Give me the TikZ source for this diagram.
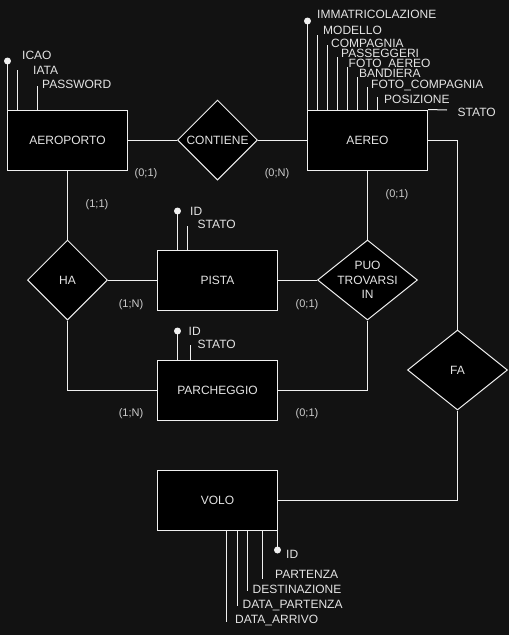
\documentclass[tikz,border=0pt]{standalone}
\usepackage{fontspec}
\setmainfont{Liberation Sans}
\usetikzlibrary{shapes.geometric}
\definecolor{bg}{RGB}{18,18,18}
\definecolor{ln}{RGB}{240,240,240}
\definecolor{tx}{RGB}{228,228,228}
\definecolor{cx}{RGB}{205,205,205}
\begin{document}
\begin{tikzpicture}[x=1pt,y=-1pt,
  ent/.style={draw=ln, fill=black, line width=1pt, minimum width=120pt, minimum height=60pt, inner sep=0pt, text=tx, font=\fontsize{12}{14}\selectfont},
  rel/.style={diamond, draw=ln, fill=black, line width=1pt, minimum height=80pt, inner sep=0pt},
  reltext/.style={text=tx, font=\fontsize{12}{14.5}\selectfont, align=center, inner sep=0pt},
  conn/.style={draw=ln, line width=1pt},
  attr/.style={draw=ln, line width=1pt},
  attrtext/.style={anchor=west, inner sep=0pt, text=tx, font=\fontsize{12}{14}\selectfont, text height=8.6pt, text depth=0pt},
  card/.style={inner sep=0pt, text=cx, font=\fontsize{11}{13}\selectfont},
  keydot/.style={fill=ln}
]
\fill[bg] (0,0) rectangle (509,635);
\useasboundingbox (0,0) rectangle (509,635);

% entities
\node[ent] (aeroporto) at (67.5,140) {AEROPORTO};
\node[ent] (aereo) at (367.5,140) {AEREO};
\node[ent] (pista) at (217.5,280) {PISTA};
\node[ent] (parcheggio) at (217.5,390) {PARCHEGGIO};
\node[ent] (volo) at (217.5,500) {VOLO};

% relations
\node[rel, minimum width=80pt] (contiene) at (217.5,140) {};
\node[reltext] (contieneT) at (contiene.center) {CONTIENE};
\node[rel, minimum width=80pt] (ha) at (67.5,280) {};
\node[reltext] (haT) at (ha.center) {HA};
\node[rel, minimum width=100pt] (puo) at (367.5,280) {};
\node[reltext] (puoT) at (puo.center) {PUO\\TROVARSI\\IN};
\node[rel, minimum width=100pt] (fa) at (457.5,370) {};
\node[reltext] (faT) at (fa.center) {FA};

% connectors
\draw[conn] (aeroporto.east) -- (contiene.west);
\draw[conn] (contiene.east) -- (aereo.west);
\draw[conn] (aeroporto.south) -- (ha.north);
\draw[conn] (ha.east) -- (pista.west);
\draw[conn] (ha.south) |- (parcheggio.west);
\draw[conn] (aereo.south) -- (puo.north);
\draw[conn] (puo.west) -- (pista.east);
\draw[conn] (puo.south) |- (parcheggio.east);
\draw[conn] (aereo.east) -| (fa.north);
\draw[conn] (fa.south) |- (volo.east);

% cardinalities
\node[card] (c1) at (146,174) {(0;1)};
\node[card] (c2) at (277,174) {(0;N)};
\node[card] (c3) at (97,205) {(1;1)};
\node[card] (c4) at (131,305) {(1;N)};
\node[card] (c5) at (131,414) {(1;N)};
\node[card] (c6) at (397,195) {(0;1)};
\node[card] (c7) at (307,305) {(0;1)};
\node[card] (c8) at (307,414) {(0;1)};

% AEROPORTO attributes
\coordinate (ap1) at (7.5,61);
\coordinate (ap2) at (17.5,70);
\coordinate (ap3) at (37.5,86);
\draw[attr] (ap1 |- aeroporto.north) -- (ap1);
\fill[keydot] (ap1) circle (3.5);
\draw[attr] (ap2 |- aeroporto.north) -- (ap2);
\draw[attr] (ap3 |- aeroporto.north) -- (ap3);
\node[attrtext] (apt1) at (22,55) {ICAO};
\node[attrtext] (apt2) at (33,70) {IATA};
\node[attrtext] (apt3) at (42,84) {PASSWORD};

% AEREO attributes
\coordinate (ae1) at (307.5,21);
\coordinate (ae2) at (317.5,35);
\coordinate (ae3) at (327.5,45);
\coordinate (ae4) at (337.5,57);
\coordinate (ae5) at (347.5,67);
\coordinate (ae6) at (357.5,77);
\coordinate (ae7) at (367.5,87);
\coordinate (ae8) at (377.5,97);
\coordinate (ae9) at (447,110);
\draw[attr] (ae1 |- aereo.north) -- (ae1);
\fill[keydot] (ae1) circle (3.5);
\draw[attr] (ae2 |- aereo.north) -- (ae2);
\draw[attr] (ae3 |- aereo.north) -- (ae3);
\draw[attr] (ae4 |- aereo.north) -- (ae4);
\draw[attr] (ae5 |- aereo.north) -- (ae5);
\draw[attr] (ae6 |- aereo.north) -- (ae6);
\draw[attr] (ae7 |- aereo.north) -- (ae7);
\draw[attr] (ae8 |- aereo.north) -- (ae8);
\draw[attr] (aereo.north east) -- (ae9);
\node[attrtext] (aet1) at (317,14.5) {IMMATRICOLAZIONE};
\node[attrtext] (aet2) at (323,30) {MODELLO};
\node[attrtext] (aet3) at (331,43.5) {COMPAGNIA};
\node[attrtext] (aet4) at (341,53.5) {PASSEGGERI};
\node[attrtext] (aet5) at (348.5,63.5) {FOTO\_AEREO};
\node[attrtext] (aet6) at (359,73) {BANDIERA};
\node[attrtext] (aet7) at (371,84.5) {FOTO\_COMPAGNIA};
\node[attrtext] (aet8) at (384,99.5) {POSIZIONE};
\node[attrtext] (aet9) at (457.5,112) {STATO};

% PISTA attributes
\coordinate (pi1) at (177.5,211);
\coordinate (pi2) at (187.5,226);
\draw[attr] (pi1 |- pista.north) -- (pi1);
\fill[keydot] (pi1) circle (3.5);
\draw[attr] (pi2 |- pista.north) -- (pi2);
\node[attrtext] (pit1) at (190,211) {ID};
\node[attrtext] (pit2) at (197.5,224.5) {STATO};

% PARCHEGGIO attributes
\coordinate (pa1) at (177.5,331);
\coordinate (pa2) at (190.5,344.5);
\draw[attr] (pa1 |- parcheggio.north) -- (pa1);
\fill[keydot] (pa1) circle (3.5);
\draw[attr] (pa2 |- parcheggio.north) -- (pa2);
\node[attrtext] (pat1) at (188.5,331) {ID};
\node[attrtext] (pat2) at (197.5,344.5) {STATO};

% VOLO attributes
\coordinate (vo1) at (277.5,550);
\coordinate (vo2) at (262.5,579);
\coordinate (vo3) at (247.5,591);
\coordinate (vo4) at (237.5,606);
\coordinate (vo5) at (226,622);
\draw[attr] (vo1 |- volo.south) -- (vo1);
\fill[keydot] (vo1) circle (3.5);
\draw[attr] (vo2 |- volo.south) -- (vo2);
\draw[attr] (vo3 |- volo.south) -- (vo3);
\draw[attr] (vo4 |- volo.south) -- (vo4);
\draw[attr] (vo5 |- volo.south) -- (vo5);
\node[attrtext] (vot1) at (286,554.5) {ID};
\node[attrtext] (vot2) at (275,574.5) {PARTENZA};
\node[attrtext] (vot3) at (252.5,589) {DESTINAZIONE};
\node[attrtext] (vot4) at (242.5,604) {DATA\_PARTENZA};
\node[attrtext] (vot5) at (235,619) {DATA\_ARRIVO};
\end{tikzpicture}
\end{document}
